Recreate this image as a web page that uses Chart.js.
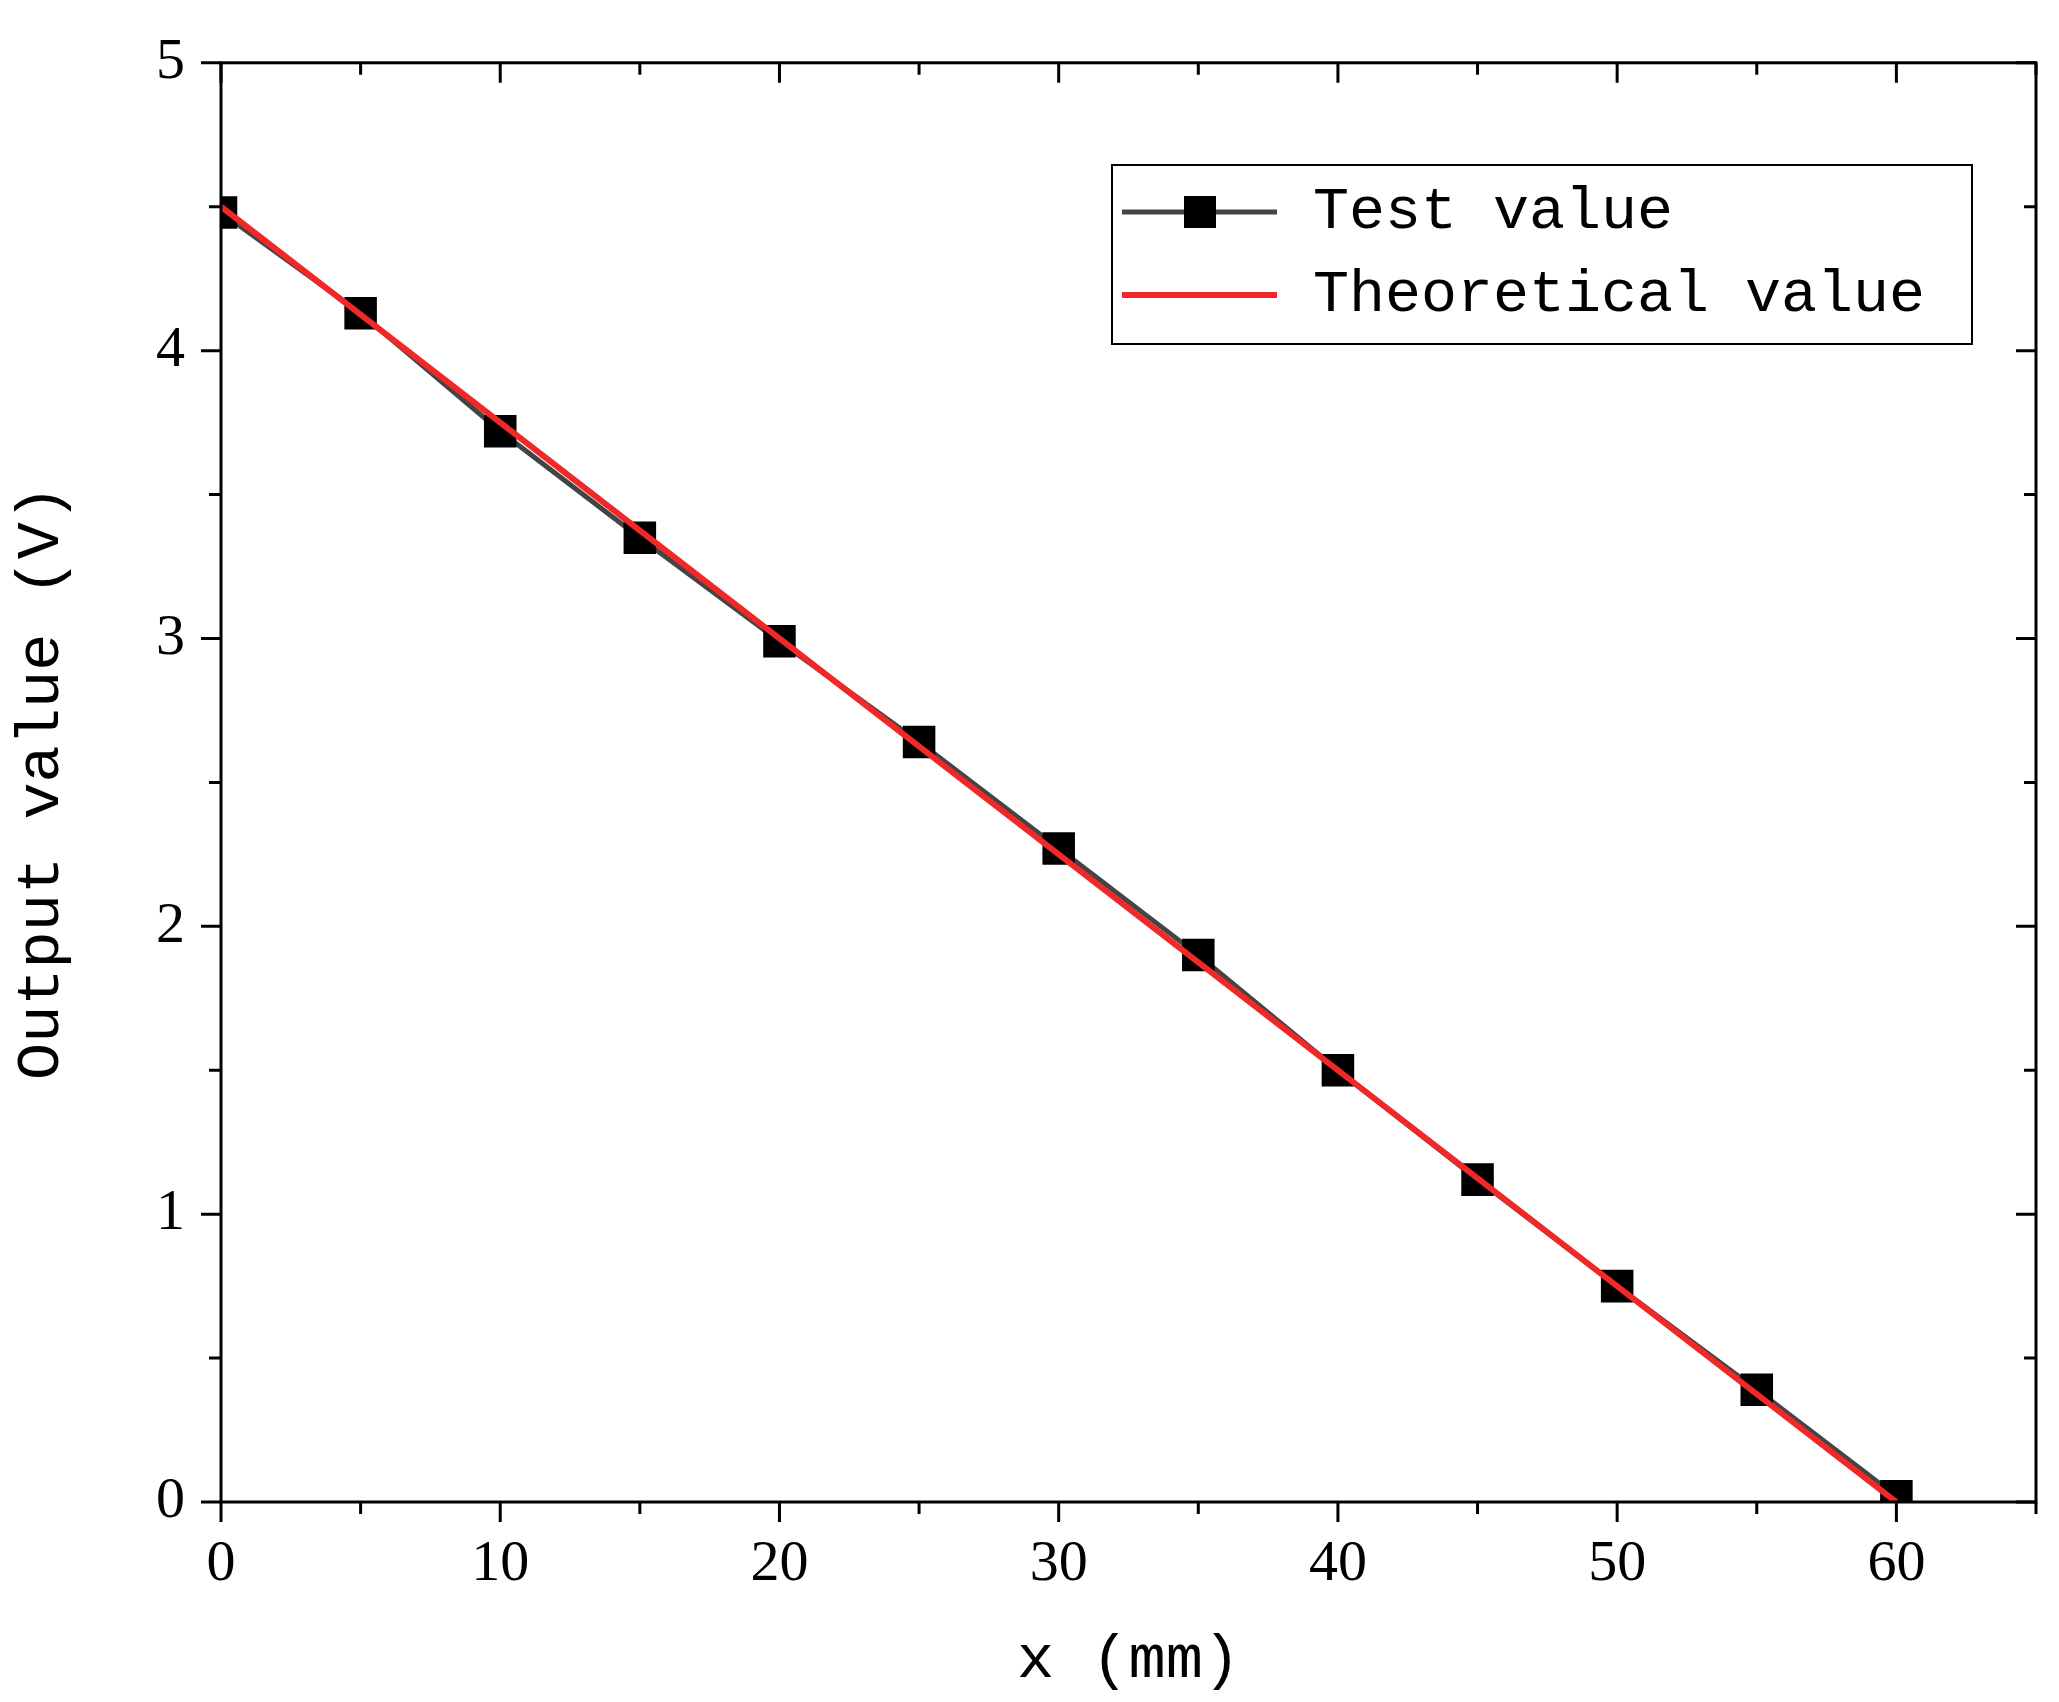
<!DOCTYPE html>
<html><head><meta charset="utf-8">
<script src="https://cdn.jsdelivr.net/npm/chart.js@4"></script>
<style>html,body{margin:0;padding:0;background:#fff}#w{width:2059px;height:1702px}</style>
</head><body><div id="w"><canvas id="c"></canvas></div>
<script>
const xPositions=[0,5,10,15,20,25,30,35,40,45,50,55,60];
const testValues=[4.48,4.13,3.72,3.35,2.99,2.64,2.27,1.90,1.50,1.12,0.75,0.39,0.02];
const theoryX=[0,60];
const theoryValues=[4.5,0];
const xTickLabels=['0','10','20','30','40','50','60'];
const yTickLabels=['0','1','2','3','4','5'];
const seriesNames=['Test value','Theoretical value'];
const serif='"Liberation Serif","Times New Roman",serif';
const mono='"Liberation Mono","DejaVu Sans Mono",monospace';

const frame={id:'frame',afterDatasetsDraw(ch){
  const c=ch.ctx,a=ch.chartArea,x=ch.scales.x,y=ch.scales.y;
  c.save();c.strokeStyle='#000';c.lineWidth=3;
  c.strokeRect(a.left,a.top,a.right-a.left,a.bottom-a.top);
  for(let v=0;v<=65;v+=5){const p=x.getPixelForValue(v),L=v%10===0?20:12;
    c.beginPath();c.moveTo(p,a.bottom);c.lineTo(p,a.bottom+L);c.moveTo(p,a.top);c.lineTo(p,a.top+L);c.stroke();}
  for(let v=0;v<=5.001;v+=0.5){const p=y.getPixelForValue(v),L=Math.abs(v%1)<1e-6?20:12;
    c.beginPath();c.moveTo(a.left,p);c.lineTo(a.left-L,p);c.moveTo(a.right,p);c.lineTo(a.right-L,p);c.stroke();}
  const bx=1112,by=165,bw=860,bh=179;
  c.fillStyle='#fff';c.fillRect(bx,by,bw,bh);c.lineWidth=2;c.strokeRect(bx,by,bw,bh);
  c.font='60px '+mono;c.textBaseline='middle';
  const r1=by+47,r2=by+130;
  c.strokeStyle='#444';c.lineWidth=5;c.beginPath();c.moveTo(1122,r1);c.lineTo(1277,r1);c.stroke();
  c.fillStyle='#000';c.fillRect(1200-16,r1-16,32,32);
  c.strokeStyle='#f02828';c.lineWidth=6;c.beginPath();c.moveTo(1122,r2);c.lineTo(1277,r2);c.stroke();
  c.fillStyle='#000';c.fillText(seriesNames[0],1313,r1);c.fillText(seriesNames[1],1313,r2);
  c.restore();
}};

new Chart(document.getElementById('c'),{
  type:'scatter',
  data:{datasets:[
    {label:seriesNames[0],data:xPositions.map((v,i)=>({x:v,y:testValues[i]})),showLine:true,
     borderColor:'#444',borderWidth:5,pointStyle:'rect',pointRadius:23,pointBackgroundColor:'#000',pointBorderWidth:0,order:2},
    {label:seriesNames[1],data:theoryX.map((v,i)=>({x:v,y:theoryValues[i]})),showLine:true,
     borderColor:'#f02828',borderWidth:6,pointRadius:0,order:1}
  ]},
  options:{responsive:true,maintainAspectRatio:false,animation:false,
    layout:{padding:{top:40,right:20,left:0,bottom:0}},
    plugins:{legend:{display:false},tooltip:{enabled:false}},
    scales:{
      x:{type:'linear',min:0,max:65,border:{display:false},
        grid:{display:false},
        afterFit(s){s.height=200;},
        ticks:{stepSize:10,padding:20,color:'#000',font:{family:serif,size:58},
          callback:(v)=>xTickLabels.includes(String(v))?String(v):''},
        title:{display:true,text:'x (mm)',color:'#000',font:{family:mono,size:62},padding:{top:0}}},
      y:{min:0,max:5,border:{display:false},grid:{display:false},
        afterFit(s){s.width=221;},
        ticks:{stepSize:1,padding:28,color:'#000',font:{family:serif,size:58},
          callback:(v)=>yTickLabels.includes(String(v))?String(v):''},
        title:{display:true,text:'Output value (V)',color:'#000',font:{family:mono,size:62},padding:{bottom:30}}}
    }},
  plugins:[frame]
});
</script></body></html>
